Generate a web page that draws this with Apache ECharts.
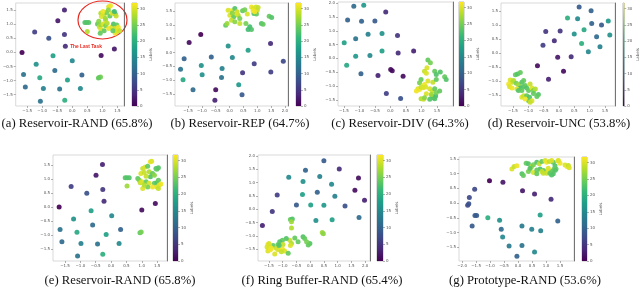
<!DOCTYPE html>
<html><head><meta charset="utf-8">
<script src="https://cdn.jsdelivr.net/npm/echarts@6/dist/echarts.min.js"></script>
<style>html,body{margin:0;padding:0;background:#fff}#c{width:640px;height:289px}</style>
</head><body><div id="c"></div>
<script>
// ---- data ----
const CMAX = 31.7;
const cbarTicks = [0, 5, 10, 15, 20, 25, 30];
const ticks15 = [-1.5, -1.0, -0.5, 0.0, 0.5, 1.0, 1.5];
const ticks15to20 = [-1.5, -1.0, -0.5, 0.0, 0.5, 1.0, 1.5, 2.0];
const ticks20to15 = [-2.0, -1.5, -1.0, -0.5, 0.0, 0.5, 1.0, 1.5];
const captions = ['(a) Reservoir-RAND (65.8%)', '(b) Reservoir-REP (64.7%)', '(c) Reservoir-DIV (64.3%)',
  '(d) Reservoir-UNC (53.8%)', '(e) Reservoir-RAND (65.8%)', '(f) Ring Buffer-RAND (65.4%)', '(g) Prototype-RAND (53.6%)'];
const annotationText = 'The Last Task';

// [x, y, label]
const pointsA = [
[-0.26,1.5,3],[-0.48,1.12,2],[-1.25,0.72,6],[-0.78,0.5,8],[-0.26,0.63,5],[-0.23,0.22,4],[-1.67,0.0,0],[-0.64,-0.12,18],[0.0,-0.3,15],[-1.2,-0.42,16],[-0.58,-0.64,11],[-1.62,-0.78,12],[-1.08,-0.9,19],[0.32,-0.8,10],[-0.16,-0.98,18],[-1.56,-1.23,11],[-0.96,-1.28,14],[-0.42,-1.3,12],[0.27,-1.28,15],[-1.06,-1.73,12],[-0.25,-1.7,20],[0.96,-0.11,1],[1.4,0.12,2],[0.9,-0.89,24],[0.94,-0.87,25],[0.87,-0.91,24],
[1.21,1.62,30],[1.27,1.65,31],[0.95,1.39,28],[1.06,1.33,29],[1.14,1.41,25],[1.25,1.29,24],[1.37,1.41,22],[1.43,1.36,23],[1.46,1.29,29],[1.32,1.39,30],[0.97,1.27,30],[0.42,1.06,23],[0.48,1.06,23],[0.55,1.06,23],[0.5,0.74,28],[0.84,1.01,24],[0.9,0.91,29],[0.95,0.97,27],[1.03,1.01,30],[1.11,0.94,25],[1.16,1.03,28],[0.95,0.82,30],[1.06,0.77,24],[1.21,0.85,31],[1.32,0.91,30],[1.37,1.01,23],[1.48,0.97,24],[1.43,0.85,29],[1.5,0.79,30],[1.53,0.89,31],[1.43,0.68,31],[1.48,0.74,30],[1.58,0.77,29],[1.35,0.77,24],[0.93,0.68,24],[1.11,1.15,29],[1.2,1.5,26],[1.02,1.45,31],[1.4,1.45,22],[1.1,1.2,27],[0.88,1.1,26]
];
const pointsB = [
[-1.04,0.65,0],[-1.46,0.36,1],[-0.05,0.24,16],[0.67,0.08,18],[1.48,0.33,4],[1.94,-0.31,7],[-1.64,-0.22,10],[-0.66,-0.16,10],[0.1,-0.18,15],[0.89,-0.4,6],[-1.77,-0.6,12],[-1.02,-0.47,16],[-0.27,-0.58,14],[0.47,-0.73,5],[1.49,-0.7,6],[-1.68,-0.98,19],[-0.99,-0.8,16],[-0.29,-0.9,12],[0.33,-1.16,17],[-1.32,-1.34,11],[-0.5,-1.34,1],[0.45,-1.52,9],[-0.53,-1.72,3],
[-0.05,1.53,30],[0.07,1.51,31],[0.19,1.59,23],[0.27,1.47,29],[0.01,1.35,30],[0.15,1.29,24],[0.31,1.35,28],[0.37,1.23,25],[-0.14,0.99,24],[-0.09,1.05,27],[0.07,1.17,29],[0.19,1.11,26],[0.79,1.65,31],[0.85,1.59,30],[0.95,1.65,30],[1.0,1.53,29],[0.88,1.41,23],[0.97,1.39,24],[0.64,1.39,30],[0.59,1.05,25],[0.73,0.93,22],[0.79,0.83,23],[0.67,0.83,22],[1.15,1.05,23],[1.21,1.02,24],[1.43,1.31,24],[1.52,1.27,23],[0.47,1.51,24],[0.55,1.55,25],[0.37,1.05,29],[0.91,1.47,31],[0.25,1.41,30],[0.1,1.43,26],[1.03,1.63,29],[0.85,1.51,31]
];
const pointsC = [
[-1.18,1.89,11],[-0.86,1.92,17],[-0.15,1.68,4],[-1.38,1.39,10],[-0.93,1.34,10],[-0.5,1.35,9],[-0.72,0.87,14],[-1.12,0.71,12],[-0.27,0.9,16],[0.23,0.83,5],[-1.49,0.57,18],[-0.27,0.27,18],[0.25,0.2,4],[0.75,0.27,3],[-1.12,0.08,17],[-0.66,0.11,15],[-1.41,-0.25,19],[0.01,-0.4,1],[0.06,-0.45,1],[-0.95,-0.55,10],[-0.4,-0.62,3],[0.41,-0.64,1],[-0.13,-1.27,6],[0.33,-1.45,8],
[1.21,-0.06,24],[1.29,-0.16,25],[1.18,-0.34,30],[1.1,-0.46,29],[1.16,-0.54,30],[1.43,-0.46,24],[1.48,-0.58,23],[1.61,-0.49,23],[1.75,-0.66,24],[1.8,-0.76,23],[0.99,-0.76,24],[0.94,-0.88,25],[1.21,-0.82,30],[1.37,-0.86,29],[1.48,-0.76,24],[1.1,-0.94,31],[1.14,-1.03,30],[0.89,-1.1,30],[0.94,-1.12,31],[0.99,-1.03,29],[1.05,-1.06,30],[0.84,-1.18,31],[1.27,-1.1,30],[1.35,-1.18,29],[1.43,-1.1,24],[1.16,-1.28,30],[1.35,-1.36,23],[1.39,-1.42,24],[1.46,-1.36,22],[1.43,-1.46,23],[0.99,-1.46,28],[1.07,-1.48,29],[1.1,-1.42,26],[1.48,-1.24,25],[1.59,-1.18,24],[1.27,-1.48,23],[1.32,-1.3,27]
];
const pointsD = [
[0.66,1.65,9],[1.05,1.51,10],[0.28,1.25,20],[0.61,1.23,15],[1.07,1.06,10],[1.39,1.0,9],[1.61,1.15,17],[-0.43,0.77,5],[0.04,0.79,5],[0.82,0.83,19],[0.5,0.68,16],[1.23,0.58,11],[1.66,0.65,16],[-0.15,0.44,4],[-0.52,0.28,6],[0.74,0.34,20],[1.34,0.23,14],[0.96,0.05,15],[-0.04,-0.15,2],[0.4,-0.13,4],[-0.7,-0.45,1],[0.15,-0.65,1],[-0.34,-0.93,3],
[-1.42,-0.77,24],[-1.35,-0.75,23],[-1.26,-0.69,24],[-1.59,-0.96,30],[-1.53,-1.04,29],[-1.64,-1.1,31],[-1.61,-1.2,30],[-1.48,-0.98,28],[-1.39,-1.08,25],[-1.32,-1.13,27],[-1.21,-1.04,23],[-1.15,-0.98,24],[-1.26,-1.25,22],[-1.17,-1.2,23],[-1.37,-1.28,30],[-1.53,-1.25,31],[-1.1,-1.16,24],[-1.05,-1.25,23],[-0.99,-1.34,24],[-0.94,-1.1,29],[-0.88,-1.25,30],[-0.83,-1.34,25],[-0.77,-1.28,28],[-0.83,-1.44,24],[-1.32,-1.34,23],[-1.21,-1.34,24],[-0.67,-1.48,23],[-0.72,-1.55,24],[-1.21,-1.58,30],[-1.15,-1.52,29],[-1.05,-1.52,24],[-0.96,-1.58,23],[-0.99,-1.7,24],[-1.1,-1.64,31],[-0.88,-1.7,30],[-0.94,-1.76,29]
];
const pointsE = [
[-0.28,1.52,3],[-0.49,1.14,2],[-1.3,0.73,6],[-0.79,0.49,8],[-0.27,0.63,5],[-0.23,0.21,4],[-1.69,0.0,0],[-0.65,-0.13,18],[0.02,-0.31,15],[-1.22,-0.43,16],[-0.6,-0.64,11],[-1.66,-0.8,12],[-1.11,-0.9,19],[0.31,-0.8,10],[-0.16,-0.98,18],[-1.6,-1.24,11],[-0.98,-1.3,14],[-0.44,-1.32,12],[0.26,-1.3,15],[-1.09,-1.75,12],[-0.27,-1.69,20],[1.44,0.13,1],[1.0,-0.11,1],[0.94,-0.92,24],[0.98,-0.89,25],
[1.28,1.62,31],[1.32,1.64,30],[1.03,1.38,29],[1.1,1.42,30],[1.19,1.46,24],[1.46,1.38,23],[1.49,1.35,24],[1.54,1.4,23],[0.97,1.2,30],[1.08,1.23,29],[1.24,1.26,28],[1.35,1.2,24],[0.46,1.05,23],[0.52,1.05,23],[0.59,1.05,23],[0.52,0.75,27],[0.87,1.02,24],[0.92,0.96,25],[0.95,0.87,29],[1.0,0.9,30],[1.14,0.9,24],[1.28,1.08,23],[1.24,0.85,30],[1.41,0.85,24],[1.49,0.87,23],[1.54,0.96,24],[1.57,0.79,30],[1.62,0.82,31],[1.49,0.72,30],[1.54,0.66,29],[1.35,0.72,31],[1.19,0.72,25],[1.03,0.66,30],[1.08,0.79,28],[1.41,1.14,26],[1.14,1.1,29]
];
const pointsF = [
[0.5,1.82,9],[-0.17,1.47,10],[1.06,1.51,4],[-0.78,1.2,15],[0.35,1.23,14],[1.76,1.17,1],[-0.26,1.04,16],[0.78,0.94,15],[1.63,0.71,1],[0.26,0.64,10],[-1.2,0.53,6],[-0.28,0.55,18],[0.9,0.49,14],[1.98,0.34,3],[-0.5,0.16,9],[0.02,0.16,18],[0.5,0.15,17],[1.27,0.12,8],[-1.38,-0.09,5],[1.78,-0.31,11],[0.21,-0.43,16],[0.8,-0.4,18],[-1.74,-0.61,3],
[-0.72,-0.39,24],[-0.65,-0.37,23],[-0.68,-0.47,27],[-0.68,-0.71,28],[0.44,-0.88,27],[0.48,-0.92,26],[-0.56,-1.08,24],[-0.26,-1.04,23],[-0.2,-1.1,24],[-0.01,-1.29,23],[-0.07,-1.35,24],[-0.13,-1.23,25],[-0.44,-1.23,24],[-0.74,-1.17,29],[-0.68,-1.29,28],[-0.72,-1.37,30],[-0.87,-1.1,23],[-1.01,-1.17,24],[-1.11,-1.23,23],[-1.17,-1.33,24],[-0.99,-1.33,29],[-1.35,-1.37,24],[-1.54,-1.33,31],[-1.48,-1.37,30],[-1.5,-1.47,31],[-1.57,-1.42,30],[-1.41,-1.47,31],[-1.54,-1.57,30],[-1.45,-1.53,31],[-1.23,-1.47,29],[-1.17,-1.53,30],[-1.01,-1.5,31],[-0.93,-1.57,30],[-1.05,-1.6,29],[-0.8,-1.66,24],[-1.29,-1.69,30],[-1.13,-1.37,23],[-1.5,-1.29,30]
];
const pointsG = [
[-1.02,0.76,0],[-0.54,0.71,2],[0.16,0.42,2],[0.59,0.31,3],[1.18,0.13,4],[-1.55,0.47,7],[-1.74,0.19,7],[-1.8,-0.07,7],[-1.76,-0.02,8],[-1.54,-0.42,9],[-1.48,-0.42,9],[-1.08,-0.5,20],[-0.66,-0.58,16],[0.79,-0.4,18],[1.42,-0.61,10],[-1.64,-0.78,9],[-0.6,-0.89,11],[0.14,-0.78,13],[0.49,-0.89,14],[0.81,-0.94,14],[-0.55,-1.15,15],[-0.32,-1.46,13],[0.14,-1.44,12],[0.59,-1.66,15],[-0.04,-1.81,10],
[-0.22,1.16,30],[-0.14,1.25,29],[-0.04,1.27,31],[0.14,1.0,23],[0.19,0.94,24],[0.29,1.36,24],[0.37,1.34,23],[0.43,1.16,30],[0.49,1.25,28],[0.55,1.31,25],[0.67,1.39,23],[0.76,1.34,29],[0.85,1.42,24],[0.97,1.45,30],[1.02,1.39,31],[1.12,1.42,29],[1.26,1.39,24],[1.32,1.27,23],[1.44,1.45,30],[1.5,1.36,31],[0.55,1.04,30],[0.67,1.0,24],[0.79,1.16,23],[0.91,1.11,24],[1.02,1.02,29],[1.08,1.11,30],[1.2,1.08,24],[1.26,1.0,23],[1.36,1.16,24],[0.37,1.08,25],[1.2,1.45,30],[1.43,1.44,30],[1.68,1.3,30],[1.75,1.25,31],[1.8,1.28,29],[1.83,1.2,30],[1.28,1.15,24],[1.33,1.12,23],[1.14,1.02,24],[1.2,0.96,23],[1.08,1.19,30],[0.9,1.02,29],[0.85,1.08,29],[0.67,1.13,24],[0.43,1.19,23]
];

// ---- layout ----
const panels = [
  {pts: pointsA, g: [11, 3, 113, 103], xr: [-1.88, 1.72], yr: [-1.9, 1.75], xt: ticks15, yt: ticks15, cb: [132, 5], cap: [77, 124]},
  {pts: pointsB, g: [175, 3, 113, 103], xr: [-1.97, 2.11], yr: [-1.93, 1.79], xt: ticks15to20, yt: ticks15, cb: [296, 5], cap: [240, 124]},
  {pts: pointsC, g: [338, 2, 115, 104], xr: [-1.69, 2.02], yr: [-1.72, 2.04], xt: ticks15, yt: ticks15to20, cb: [459, 5], cap: [400, 124]},
  {pts: pointsD, g: [501, 3, 114, 103], xr: [-1.89, 1.83], yr: [-1.89, 1.79], xt: ticks15, yt: ticks15, cb: [623, 5], cap: [559, 124]},
  {pts: pointsE, g: [53, 155, 114, 106], xr: [-1.89, 1.82], yr: [-1.93, 1.86], xt: ticks15, yt: ticks15, cb: [173, 5], cap: [120, 281]},
  {pts: pointsF, g: [258, 155, 112, 106], xr: [-1.9, 2.18], yr: [-1.95, 2.04], xt: ticks15to20, yt: ticks15to20, cb: [377, 6], cap: [322, 281]},
  {pts: pointsG, g: [459, 157, 115, 104], xr: [-2.11, 2.0], yr: [-1.97, 1.57], xt: ticks20to15, yt: ticks20to15, cb: [582, 5], cap: [525, 281]}
];

const VIRIDIS = ['#440154','#482878','#3e4989','#31688e','#26828e','#1f9e89','#35b779','#6ece58','#b5de2b','#fde725'];
const fmt = v => (v < 0 ? '\u2212' : '') + Math.abs(v).toFixed(1);
const TICKFONT = {fontSize: 4, color: '#555', fontFamily: 'DejaVu Sans'};

const grids = [], xAxes = [], yAxes = [], series = [], visualMaps = [], graphics = [];
panels.forEach((p, i) => {
  const gi = grids.length;
  grids.push({left: p.g[0], top: p.g[1], width: p.g[2], height: p.g[3], show: true, borderColor: '#cfcfcf', borderWidth: 0.8, backgroundColor: '#fff'});
  const xi = xAxes.length;
  xAxes.push({gridIndex: gi, type: 'value', min: p.xr[0], max: p.xr[1],
    axisLine: {show: false, onZero: false}, splitLine: {show: false},
    axisTick: {show: true, length: 2, customValues: p.xt, lineStyle: {color: '#666', width: 0.5}},
    axisLabel: Object.assign({customValues: p.xt, margin: 3, formatter: fmt}, TICKFONT)});
  const yi = yAxes.length;
  yAxes.push({gridIndex: gi, type: 'value', min: p.yr[0], max: p.yr[1], position: 'left',
    axisLine: {show: false, onZero: false}, splitLine: {show: false},
    axisTick: {show: true, length: 2, customValues: p.yt, lineStyle: {color: '#666', width: 0.5}},
    axisLabel: Object.assign({customValues: p.yt, margin: 3, formatter: fmt}, TICKFONT)});
  yAxes.push({gridIndex: gi, type: 'value', min: p.yr[0], max: p.yr[1], position: 'right',
    axisLine: {show: true, onZero: false, lineStyle: {color: '#555', width: 0.8}},
    axisTick: {show: false}, axisLabel: {show: false}, splitLine: {show: false}});
  series.push({type: 'scatter', xAxisIndex: xi, yAxisIndex: yi, data: p.pts, symbolSize: 5,
    itemStyle: {opacity: 0.92}, silent: true, animation: false});
  visualMaps.push({type: 'continuous', show: false, min: 0, max: CMAX, dimension: 2,
    seriesIndex: series.length - 1, inRange: {color: VIRIDIS}});
  // colorbar
  const cg = grids.length;
  grids.push({left: p.cb[0], top: p.g[1], width: p.cb[1], height: p.g[3], show: true, borderColor: '#777', borderWidth: 0.5});
  const cxi = xAxes.length;
  xAxes.push({gridIndex: cg, type: 'category', data: [''], show: false});
  const cyi = yAxes.length;
  yAxes.push({gridIndex: cg, type: 'value', position: 'right', min: 0, max: CMAX,
    axisLine: {show: false, onZero: false}, splitLine: {show: false},
    axisTick: {show: true, length: 2, customValues: cbarTicks, lineStyle: {color: '#666', width: 0.5}},
    axisLabel: Object.assign({customValues: cbarTicks, margin: 3}, TICKFONT),
    name: 'Labels', nameLocation: 'middle', nameRotate: 90, nameGap: 11,
    nameTextStyle: {fontSize: 4, color: '#555', fontFamily: 'DejaVu Sans'}});
  series.push({type: 'bar', xAxisIndex: cxi, yAxisIndex: cyi, data: [CMAX], barWidth: '100%', silent: true, animation: false,
    itemStyle: {color: {type: 'linear', x: 0, y: 1, x2: 0, y2: 0,
      colorStops: VIRIDIS.map((c, k) => ({offset: k / (VIRIDIS.length - 1), color: c}))}}});
  graphics.push({type: 'text', x: p.cap[0], y: p.cap[1], silent: true,
    style: {text: captions[i], font: '12.7px "Liberation Serif"', fill: '#111', textAlign: 'center', textVerticalAlign: 'middle'}});
});
// annotation in (a)
graphics.push({type: 'circle', x: 102.5, y: 20, scaleX: 1.29, shape: {cx: 0, cy: 0, r: 19}, silent: true,
  style: {fill: 'none', stroke: '#e8261c', lineWidth: 0.9}});
graphics.push({type: 'text', x: 86, y: 46.5, silent: true,
  style: {text: annotationText, font: 'bold 4.8px "Liberation Sans"', fill: '#e8261c', textAlign: 'center', textVerticalAlign: 'middle'}});

const chart = echarts.init(document.getElementById('c'), null, {renderer: 'canvas'});
chart.setOption({animation: false, backgroundColor: '#fff', grid: grids, xAxis: xAxes, yAxis: yAxes,
  series: series, visualMap: visualMaps, graphic: graphics});
</script></body></html>
